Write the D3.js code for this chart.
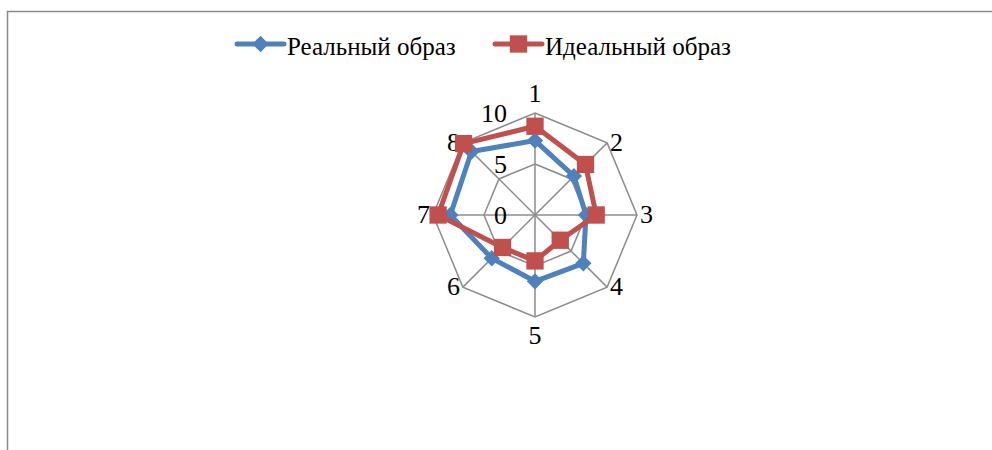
<!DOCTYPE html>
<html>
<head>
<meta charset="utf-8">
<script src="https://cdn.jsdelivr.net/npm/d3@7"></script>
<style>
  body { margin: 0; background: #fff; }
  svg { display: block; font-family: "Liberation Serif", "Times New Roman", serif; }
</style>
</head>
<body>
<svg class="svg" width="992" height="450"></svg>
<script>
const categories = ["1", "2", "3", "4", "5", "6", "7", "8"]
const realValues = [7.3, 5.4, 5.0, 6.7, 6.5, 6.0, 8.3, 8.8]
const idealValues = [8.7, 7.0, 6.0, 3.5, 4.5, 4.5, 9.5, 9.9]
const tickValues = [0, 5, 10]
const seriesNames = ["Реальный образ", "Идеальный образ"]

const width = 992, height = 450
const center = { x: 535, y: 215 }
const radius = 102
const gridColor = '#8c8c8c'
const colors = ['#4F81BD', '#C0504D']

const svg = d3.select('.svg')

// chart frame (only top and left edges are visible)
svg.append('path')
    .attr('d', `M7.5,${height} V11.5 H${width}`)
    .attr('fill', 'none')
    .attr('stroke', '#8a8a8a')
    .attr('stroke-width', 1.5)

const r = d3.scaleLinear().domain([0, 10]).range([0, radius])
const angle = d3.scalePoint().domain(categories).range([0, 2 * Math.PI * (1 - 1 / categories.length)])

const point = (cat, v) => {
    const a = angle(cat)
    return [center.x + r(v) * Math.sin(a), center.y - r(v) * Math.cos(a)]
}

const chart = svg.append('g')

// grid rings
chart.selectAll('.ring').data(tickValues.filter(t => t > 0)).join('polygon')
    .classed('ring', true)
    .attr('points', t => categories.map(c => point(c, t).join(',')).join(' '))
    .attr('fill', 'none')
    .attr('stroke', gridColor)
    .attr('stroke-width', 1.5)

// spokes
chart.selectAll('.spoke').data(categories).join('line')
    .classed('spoke', true)
    .attr('x1', center.x).attr('y1', center.y)
    .attr('x2', d => point(d, 10)[0])
    .attr('y2', d => point(d, 10)[1])
    .attr('stroke', gridColor)
    .attr('stroke-width', 1.5)

// value axis labels
chart.selectAll('.tick-label').data(tickValues).join('text')
    .classed('tick-label', true)
    .attr('x', center.x - 28)
    .attr('y', d => center.y - r(d))
    .attr('dy', '0.35em')
    .attr('text-anchor', 'end')
    .attr('font-size', 26)
    .text(d => d)

// category labels
chart.selectAll('.cat-label').data(categories).join('text')
    .classed('cat-label', true)
    .attr('x', d => {
        const a = angle(d), s = Math.sin(a)
        return point(d, 10)[0] + (Math.abs(s) < 0.1 ? 0 : s > 0 ? 3 : -3)
    })
    .attr('y', d => {
        const c = Math.cos(angle(d))
        return point(d, 10)[1] + (c > 0.9 ? -11 : c < -0.9 ? 27 : 8)
    })
    .attr('text-anchor', d => {
        const s = Math.sin(angle(d))
        return Math.abs(s) < 0.1 ? 'middle' : s > 0 ? 'start' : 'end'
    })
    .attr('font-size', 26)
    .text(d => d)

// series
const series = [realValues, idealValues]
const line = d3.line().curve(d3.curveLinearClosed)
const diamond = d3.symbol().type(d3.symbolDiamond2).size(170)
const square = d3.symbol().type(d3.symbolSquare).size(300)

series.forEach((vals, si) => {
    const g = chart.append('g')
    g.append('path')
        .attr('d', line(categories.map((c, i) => point(c, vals[i]))))
        .attr('fill', 'none')
        .attr('stroke', colors[si])
        .attr('stroke-width', 5)
        .attr('stroke-linejoin', 'round')
    g.selectAll('.marker').data(vals).join('path')
        .classed('marker', true)
        .attr('transform', (d, i) => `translate(${point(categories[i], d)})`)
        .attr('d', si === 0 ? diamond() : square())
        .attr('fill', colors[si])
})

// legend
const legendItems = [
    { x: 237, name: seriesNames[0], sym: diamond, color: colors[0] },
    { x: 495, name: seriesNames[1], sym: square, color: colors[1] }
]
const legend = svg.selectAll('.legend').data(legendItems).join('g')
    .classed('legend', true)
    .attr('transform', d => `translate(${d.x},44)`)
legend.append('line')
    .attr('x1', 0).attr('x2', 47)
    .attr('stroke', d => d.color)
    .attr('stroke-width', 5)
    .attr('stroke-linecap', 'round')
legend.append('path')
    .attr('transform', 'translate(23.5,0)')
    .attr('d', d => d.sym())
    .attr('fill', d => d.color)
legend.append('text')
    .attr('x', 50)
    .attr('y', 11)
    .attr('font-size', 25)
    .text(d => d.name)
</script>
</body>
</html>
